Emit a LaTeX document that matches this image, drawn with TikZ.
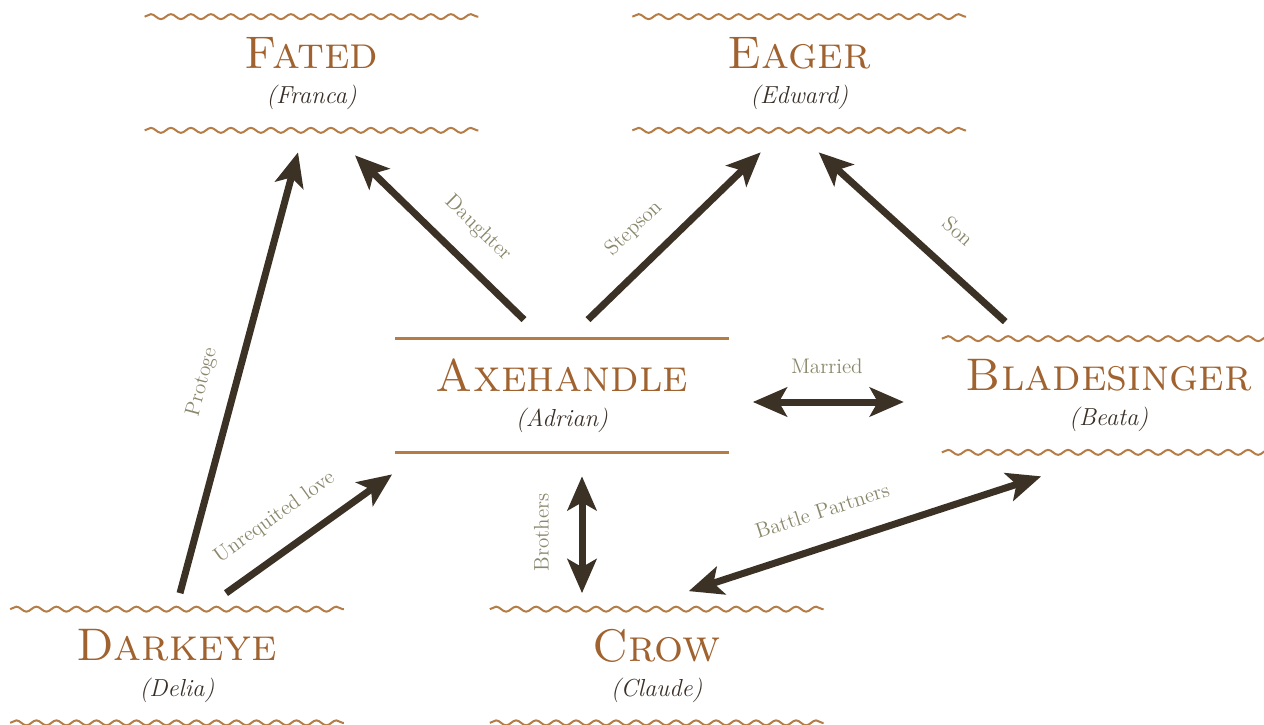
\documentclass[tikz,border=0pt]{standalone}
\usepackage{fontspec}
\usetikzlibrary{positioning, arrows.meta, decorations.pathmorphing, calc}

\definecolor{titlebrown}{HTML}{A0622F}
\definecolor{rulebrown}{HTML}{B57C45}
\definecolor{arrowbrown}{HTML}{3B3125}
\definecolor{tagolive}{HTML}{8A876B}
\definecolor{namedark}{HTML}{3A3028}

\newcommand{\castetitle}[1]{{\color{titlebrown}\fontsize{26}{30}\selectfont\scshape\addfontfeature{FakeBold=2}#1}}
\newcommand{\castename}[1]{{\color{namedark}\fontsize{14}{15}\selectfont\itshape\addfontfeature{LetterSpace=6, FakeBold=1.5}(#1)}}

\begin{document}
\begin{tikzpicture}[
    >={Stealth[length=0.68cm, width=0.58cm, inset=0.16cm]},
    arrow/.style={
        ->,
        draw=arrowbrown,
        line width=0.14cm
    },
    twoway/.style={
        arrow,
        <->
    },
    caste/.style={
        rectangle,
        minimum width=6.66cm,
        minimum height=2.26cm,
        inner sep=0pt,
        align=center,
        font=\fontsize{10}{20}\selectfont
    },
    wavy/.style={
        draw=rulebrown,
        line width=0.04cm,
        decorate,
        decoration={snake, segment length=0.4cm, amplitude=0.05cm}
    },
    flat/.style={
        draw=rulebrown,
        line width=0.06cm
    },
    tag/.style={
        text=tagolive,
        font=\fontsize{12}{14}\selectfont,
        sloped,
        inner sep=0pt,
        text height=8pt,
        text depth=2pt,
        above=12pt
    }
]
    \useasboundingbox (0,0) rectangle (25.28,14.48);

    % Characters
    \node[caste] (axe) at (11.24,6.57) {\castetitle{Axehandle}\\\castename{Adrian}};
    \node[caste] (fated) at (6.23,13.01) {\castetitle{Fated}\\\castename{Franca}};
    \node[caste, right=3.08cm of fated] (eager) {\castetitle{Eager}\\\castename{Edward}};
    \node[caste, right=4.26cm of axe] (blade) {\castetitle{Bladesinger}\\\castename{Beata}};
    \node[caste] (dark) at (3.54,1.16) {\castetitle{Darkeye}\\\castename{Delia}};
    \node[caste, right=2.92cm of dark] (crow) {\castetitle{Crow}\\\castename{Claude}};

    % Rules
    \foreach \n in {fated, eager, blade, dark, crow} {
        \draw[wavy] (\n.north west) -- (\n.north east);
        \draw[wavy] (\n.south west) -- (\n.south east);
    }
    \draw[flat] (axe.north west) -- (axe.north east);
    \draw[flat] (axe.south west) -- (axe.south east);

    % Ends of the brothers arrow, kept exactly vertical
    \coordinate (brotop) at ([xshift=0.4cm, yshift=-0.48cm]axe.south);
    \coordinate (brobot) at ($(brotop |- crow.north) + (0,0.32)$);

    % Relations
    \draw[arrow] ([xshift=-0.76cm, yshift=0.38cm]axe.north) -- ([xshift=0.87cm, yshift=-0.5cm]fated.south)
        node[tag, pos=0.41] {Daughter};
    \draw[arrow] ([xshift=0.52cm, yshift=0.38cm]axe.north) -- ([xshift=-0.77cm, yshift=-0.44cm]eager.south)
        node[tag, pos=0.40] {Stepson};
    \draw[arrow] ([xshift=-2.07cm, yshift=0.34cm]blade.north) -- ([xshift=0.39cm, yshift=-0.44cm]eager.south)
        node[tag, pos=0.38] {Son};
    \draw[arrow] ([xshift=0.06cm, yshift=0.32cm]dark.north) -- ([xshift=-0.27cm, yshift=-0.44cm]fated.south)
        node[tag, pos=0.46] {Protoge};
    \draw[arrow] ([xshift=0.98cm, yshift=0.32cm]dark.north) -- ([xshift=-0.06cm, yshift=-0.44cm]axe.south west)
        node[tag, pos=0.41] {Unrequited love};
    \draw[twoway] ([xshift=0.48cm, yshift=-0.13cm]axe.east) -- ([xshift=-0.76cm, yshift=-0.13cm]blade.west)
        node[tag, pos=0.49] {Married};
    \draw[twoway] (brobot) -- (brotop)
        node[tag, pos=0.52, above=15pt] {Brothers};
    \draw[twoway] ([xshift=0.64cm, yshift=0.36cm]crow.north) -- ([xshift=-1.35cm, yshift=-0.48cm]blade.south)
        node[tag, pos=0.41] {Battle Partners};

\end{tikzpicture}
\end{document}
